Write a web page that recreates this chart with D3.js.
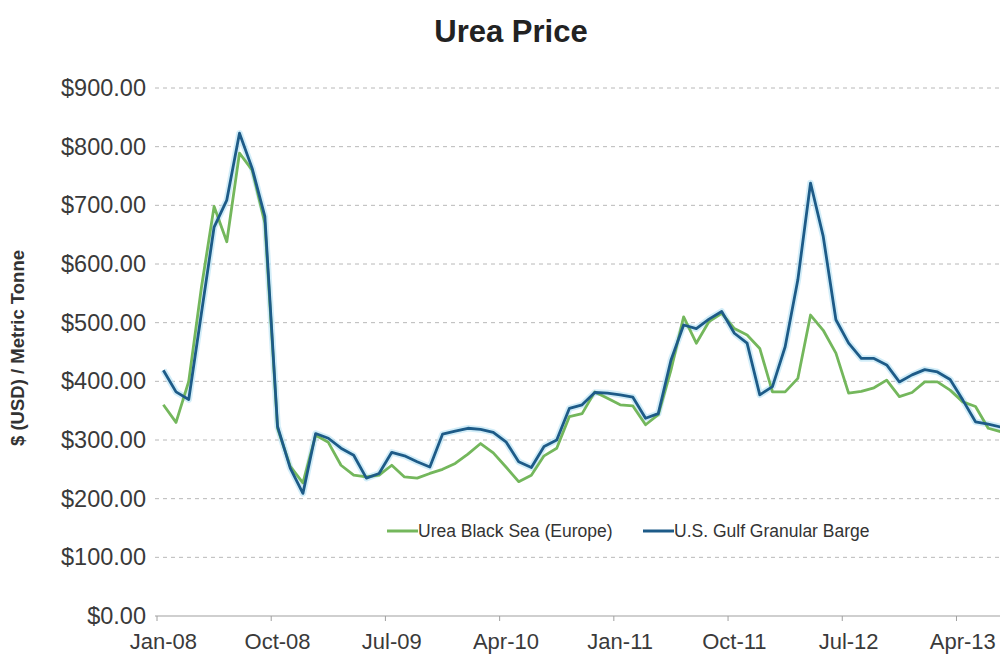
<!DOCTYPE html>
<html>
<head>
<meta charset="utf-8">
<script src="https://cdn.jsdelivr.net/npm/d3@7"></script>
<style>
  body { margin: 0; background: #fff; }
  svg { font-family: "Liberation Sans", Arial, sans-serif; }
</style>
</head>
<body>
<script>
'use strict'

var width = 1000
var height = 654

// monthly prices from Jan-08, $ per metric tonne
var blackSea = [360, 330, 400, 560, 698, 638, 789, 760, 670, 320,
  255, 227, 308, 296, 257, 240, 237, 240, 257, 237,
  235, 243, 250, 260, 276, 294, 278, 254, 229, 240,
  273, 286, 340, 345, 382, 371, 360, 358, 326, 343,
  419, 510, 465, 502, 516, 490, 479, 456, 382, 382,
  405, 513, 487, 448, 380, 383, 389, 402, 374, 381,
  399, 399, 385, 365, 357, 320, 314]
var usGulf = [419, 382, 369, 516, 663, 709, 823, 763, 681, 323,
  252, 209, 311, 303, 286, 274, 235, 243, 279, 273,
  263, 254, 310, 315, 320, 318, 313, 297, 263, 253,
  289, 300, 354, 360, 381, 380, 377, 373, 337, 345,
  436, 496, 490, 506, 519, 482, 465, 377, 391, 459,
  573, 738, 647, 505, 465, 439, 439, 428, 399, 411,
  420, 416, 403, 368, 331, 327, 322]
var tickMonths = [0, 9, 18, 27, 36, 45, 54, 63]
var tickLabels = ["Jan-08", "Oct-08", "Jul-09", "Apr-10", "Jan-11", "Oct-11", "Jul-12", "Apr-13"]
var yTicks = [0, 100, 200, 300, 400, 500, 600, 700, 800, 900]
var seriesNames = ["Urea Black Sea (Europe)", "U.S. Gulf Granular Barge"]
var colors = ["#74b75c", "#1d5b88"]

var plotLeft = 157, plotTop = 88, plotBottom = 616
var monthWidth = 12.69

var x = d3.scaleLinear().domain([0, 67]).range([plotLeft, plotLeft + 67 * monthWidth])
var y = d3.scaleLinear().domain([0, 900]).range([plotBottom, plotTop])

var svg = d3.select("body").append("svg")
  .attr("width", width)
  .attr("height", height)

svg.append("text")
  .attr("x", 511).attr("y", 42)
  .attr("text-anchor", "middle")
  .attr("font-size", 31)
  .attr("font-weight", "bold")
  .attr("fill", "#222")
  .text("Urea Price")

// dashed gridlines
svg.append("g").selectAll("line")
  .data(yTicks.filter(d => d > 0))
  .enter().append("line")
  .attr("x1", plotLeft - 2).attr("x2", width)
  .attr("y1", d => y(d)).attr("y2", d => y(d))
  .attr("stroke", "#b8b8b8")
  .attr("stroke-dasharray", "4 4")

// y axis labels
var fmt = d3.format("$,.2f")
svg.append("g").selectAll("text")
  .data(yTicks)
  .enter().append("text")
  .attr("x", 146).attr("y", d => y(d) + 8)
  .attr("text-anchor", "end")
  .attr("font-size", 23.5)
  .attr("fill", "#3a3a3a")
  .text(d => fmt(d))

svg.append("text")
  .attr("transform", "translate(24," + 348 + ") rotate(-90)")
  .attr("text-anchor", "middle")
  .attr("font-size", 18.5)
  .attr("font-weight", "bold")
  .attr("fill", "#333")
  .text("$ (USD) / Metric Tonne")

// x axis
svg.append("line")
  .attr("x1", plotLeft - 2).attr("x2", width)
  .attr("y1", plotBottom).attr("y2", plotBottom)
  .attr("stroke", "#a0a0a0")
  .attr("stroke-width", 1.2)

svg.append("g").selectAll("line")
  .data(tickMonths)
  .enter().append("line")
  .attr("x1", d => x(d)).attr("x2", d => x(d))
  .attr("y1", plotBottom).attr("y2", plotBottom + 5)
  .attr("stroke", "#a0a0a0")

svg.append("g").selectAll("text")
  .data(tickMonths)
  .enter().append("text")
  .attr("x", d => x(d + 0.5)).attr("y", 649)
  .attr("text-anchor", "middle")
  .attr("font-size", 22)
  .attr("fill", "#3a3a3a")
  .text((d, i) => tickLabels[i])

// price lines, points centred in each month
var line = d3.line()
  .x((d, i) => x(i + 0.5))
  .y(d => y(d))

var lines = svg.append("g")
lines.append("path")
  .attr("d", line(usGulf))
  .attr("fill", "none")
  .attr("stroke", "#bfe6f5")
  .attr("stroke-width", 6.5)
  .attr("stroke-linejoin", "round")
  .attr("opacity", 0.7)
lines.append("path")
  .attr("d", line(blackSea))
  .attr("fill", "none")
  .attr("stroke", colors[0])
  .attr("stroke-width", 2.8)
  .attr("stroke-linejoin", "round")
lines.append("path")
  .attr("d", line(usGulf))
  .attr("fill", "none")
  .attr("stroke", colors[1])
  .attr("stroke-width", 2.8)
  .attr("stroke-linejoin", "round")

// legend
var legendX = [387, 643]
var legend = svg.append("g").selectAll("g")
  .data(seriesNames)
  .enter().append("g")
  .attr("transform", (d, i) => "translate(" + legendX[i] + ",531)")
legend.append("line")
  .attr("x1", 0).attr("x2", 31)
  .attr("stroke", (d, i) => colors[i])
  .attr("stroke-width", 3)
legend.append("text")
  .attr("x", 31).attr("y", 6)
  .attr("font-size", 17.5)
  .attr("fill", "#333")
  .text(d => d)
</script>
</body>
</html>
